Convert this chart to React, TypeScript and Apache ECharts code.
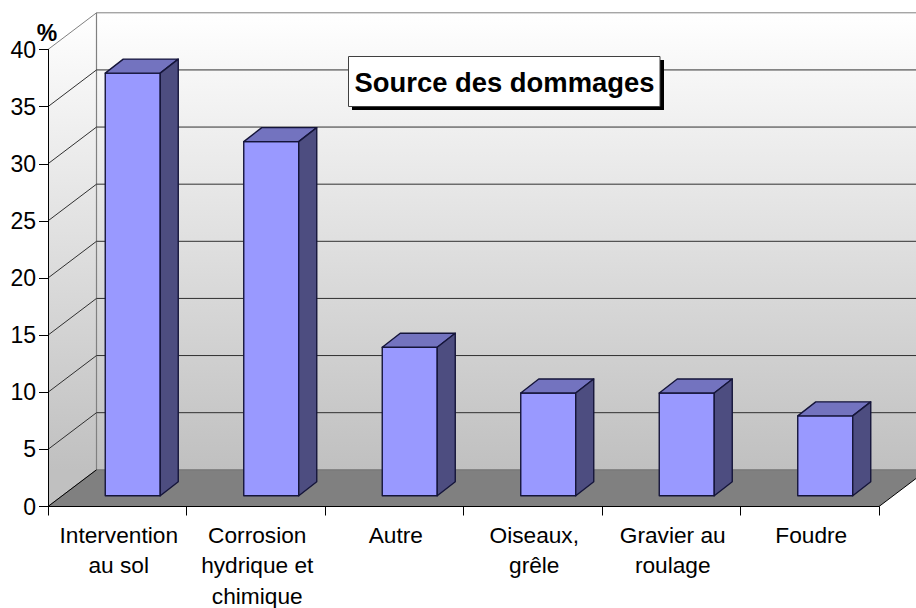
import React, { useEffect, useRef } from "react";
import * as echarts from "echarts";

const categories = [
  "Intervention\nau sol",
  "Corrosion\nhydrique et\nchimique",
  "Autre",
  "Oiseaux,\ngrêle",
  "Gravier au\nroulage",
  "Foudre",
];
const values = [37, 31, 13, 9, 9, 7];
const gridValues = [0, 5, 10, 15, 20, 25, 30, 35, 40];
const chartTitle = "Source des dommages";
const unitLabel = "%";

const FONT = '"Liberation Sans", Arial, sans-serif';
const WALL_DX = 48.5;
const WALL_DY = -36.7;
const BAR_W = 55;
const BAR_DX = 18;
const BAR_DY = -14;
const BAR_OFFSET_X = 15.5;
const BAR_OFFSET_Y = -10.7;
const OUTLINE = "#15153a";

function renderWall(params: any, api: any) {
  const c = params.coordSys;
  const x0 = c.x, x1 = c.x + c.width, yTop = c.y, yBot = c.y + c.height;
  const grad = new echarts.graphic.LinearGradient(
    0, yTop + WALL_DY, 0, yBot + WALL_DY,
    [{ offset: 0, color: "#ffffff" }, { offset: 1, color: "#c0c0c0" }],
    true
  );
  return {
    type: "group",
    children: [
      {
        type: "polygon",
        shape: { points: [[x0 + WALL_DX, yTop + WALL_DY], [x1 + WALL_DX, yTop + WALL_DY], [x1 + WALL_DX, yBot + WALL_DY], [x0 + WALL_DX, yBot + WALL_DY]] },
        style: { fill: grad, stroke: "none" },
      },
      {
        type: "polygon",
        shape: { points: [[x0, yTop], [x0 + WALL_DX, yTop + WALL_DY], [x0 + WALL_DX, yBot + WALL_DY], [x0, yBot]] },
        style: { fill: grad, stroke: "none" },
      },
      {
        type: "polygon",
        shape: { points: [[x0, yBot], [x0 + WALL_DX, yBot + WALL_DY], [x1 + WALL_DX, yBot + WALL_DY], [x1, yBot]] },
        style: { fill: "#808080", stroke: "none" },
      },
      {
        type: "line",
        shape: { x1: x0 + WALL_DX, y1: yTop + WALL_DY, x2: x0 + WALL_DX, y2: yBot + WALL_DY },
        style: { stroke: "#808080", lineWidth: 1.2 },
      },
      {
        type: "line",
        shape: { x1: x1, y1: yBot, x2: x1 + WALL_DX, y2: yBot + WALL_DY },
        style: { stroke: "#000000", lineWidth: 1 },
      },
    ],
  };
}

function renderGridLine(params: any, api: any) {
  const c = params.coordSys;
  const y = api.coord([0, api.value(1)])[1];
  const x0 = c.x, x1 = c.x + c.width;
  const v = api.value(1);
  const topLine = v === 40;
  const stroke = topLine ? "#808080" : v === 0 ? "#707070" : "#303030";
  return {
    type: "group",
    children: [
      {
        type: "polyline",
        shape: { points: [[x0, y], [x0 + WALL_DX, y + WALL_DY], [x1 + WALL_DX, y + WALL_DY]] },
        style: { stroke, lineWidth: 1, fill: "none" },
      },
      ...(v === 0
        ? [{
            type: "line",
            shape: { x1: x0, y1: y, x2: x0 + WALL_DX, y2: y + WALL_DY },
            style: { stroke: "#000000", lineWidth: 1 },
          }]
        : []),
    ],
  };
}

function renderBar(params: any, api: any) {
  const [cx, yTopRaw] = api.coord([api.value(0), api.value(1)]);
  const yBaseRaw = api.coord([api.value(0), 0])[1];
  const l = cx + BAR_OFFSET_X - BAR_W / 2;
  const r = l + BAR_W;
  const t = yTopRaw + BAR_OFFSET_Y;
  const b = yBaseRaw + BAR_OFFSET_Y;
  const stroke = { stroke: OUTLINE, lineWidth: 1.4, lineJoin: "round" };
  return {
    type: "group",
    children: [
      {
        type: "polygon",
        shape: { points: [[l, b], [r, b], [r, t], [l, t]] },
        style: { fill: "#9999ff", ...stroke },
      },
      {
        type: "polygon",
        shape: { points: [[l, t], [r, t], [r + BAR_DX, t + BAR_DY], [l + BAR_DX, t + BAR_DY]] },
        style: { fill: "#7373bf", ...stroke },
      },
      {
        type: "polygon",
        shape: { points: [[r, t], [r + BAR_DX, t + BAR_DY], [r + BAR_DX, b + BAR_DY], [r, b]] },
        style: { fill: "#4d4d80", ...stroke },
      },
    ],
  };
}

export default function App() {
  const ref = useRef<HTMLDivElement>(null);
  useEffect(() => {
    const chart = echarts.init(ref.current!, undefined, { renderer: "svg" });
    chart.setOption({
      animation: false,
      backgroundColor: "#ffffff",
      grid: { left: 48, width: 831, top: 49.5, height: 457, outerBoundsMode: "none" },
      xAxis: {
        type: "category",
        data: categories,
        zlevel: 1,
        boundaryGap: true,
        axisLine: { show: true, lineStyle: { color: "#000000", width: 1 } },
        axisTick: { show: true, alignWithLabel: false, length: 9, lineStyle: { color: "#000000", width: 1 } },
        axisLabel: {
          interval: 0,
          color: "#000",
          fontFamily: FONT,
          fontSize: 22.7,
          lineHeight: 30.5,
          margin: 13,
          padding: [0, 0, 0, 3],
        },
      },
      yAxis: {
        type: "value",
        min: 0,
        max: 40,
        interval: 5,
        zlevel: 1,
        splitLine: { show: false },
        axisLine: { show: true, lineStyle: { color: "#000000", width: 1 } },
        axisTick: { show: true, length: 9, lineStyle: { color: "#000000", width: 1 } },
        axisLabel: { color: "#000", fontFamily: FONT, fontSize: 23, margin: 12, padding: [2, 0, 0, 0] },
      },
      series: [
        { type: "custom", z: 1, silent: true, renderItem: renderWall, data: [[0, 0]], encode: { x: 0, y: 1 } },
        {
          type: "custom",
          z: 2,
          silent: true,
          renderItem: renderGridLine,
          data: gridValues.map((v) => [0, v]),
          encode: { x: 0, y: 1 },
        },
        {
          type: "custom",
          z: 3,
          renderItem: renderBar,
          data: values.map((v, i) => [i, v]),
          encode: { x: 0, y: 1 },
        },
      ],
      graphic: [
        { type: "rect", z: 20, shape: { x: 352, y: 60, width: 312, height: 50 }, style: { fill: "#000" } },
        { type: "rect", z: 21, shape: { x: 348.5, y: 56.5, width: 311.5, height: 50 }, style: { fill: "#fff", stroke: "#404040", lineWidth: 1 } },
        {
          type: "text",
          z: 22,
          x: 504.5,
          y: 82.5,
          style: { text: chartTitle, fontFamily: FONT, fontWeight: "bold", fontSize: 27.4, fill: "#000", align: "center", verticalAlign: "middle" },
        },
        {
          type: "text",
          z: 22,
          x: 47,
          y: 33,
          style: { text: unitLabel, fontFamily: FONT, fontWeight: "bold", fontSize: 23, fill: "#000", align: "center", verticalAlign: "middle" },
        },
      ],
    });
    return () => chart.dispose();
  }, []);
  return (
    <div
      ref={ref}
      style={{ position: "absolute", left: 0, top: 0, width: 916, height: 608 }}
    />
  );
}
